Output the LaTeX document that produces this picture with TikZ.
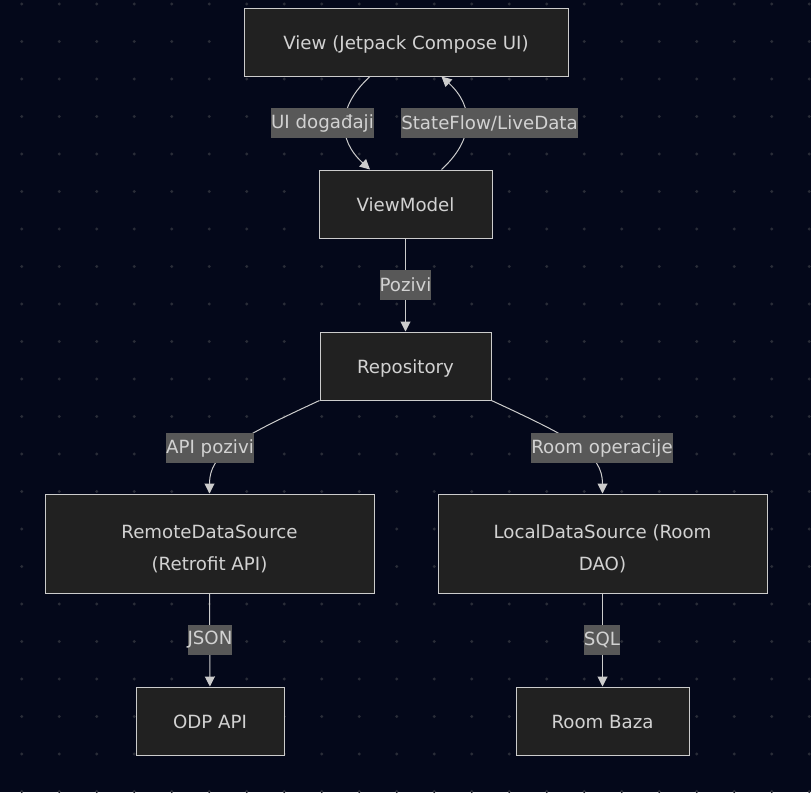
\documentclass[tikz,border=0pt]{standalone}
\usepackage{fontspec}
\setmainfont{DejaVu Sans}
\usetikzlibrary{arrows.meta}
\definecolor{pagebg}{HTML}{04081A}
\definecolor{dotgray}{HTML}{2A2D38}
\definecolor{boxfill}{HTML}{212121}
\definecolor{boxline}{HTML}{CCCCCC}
\definecolor{labelbg}{HTML}{585858}
\definecolor{textgray}{HTML}{D2D2D2}

\begin{document}
\begin{tikzpicture}[x=1pt,y=-1pt,
    box/.style={draw=boxline,fill=boxfill,line width=1pt,text=textgray,
      minimum height=68pt,inner sep=0pt,align=center,
      font=\fontsize{18.2}{31.6}\selectfont},
    onebox/.style={box,text height=15pt,text depth=0pt},
    elabel/.style={fill=labelbg,text=textgray,inner xsep=0pt,inner ysep=0pt,
      minimum height=30pt,font=\fontsize{18.2}{24}\selectfont},
    flow/.style={draw=boxline,line width=1pt,-{Triangle[length=10pt,width=10pt]}}]
  % background with dots
  \fill[pagebg] (0,0) rectangle (811,792);
  \foreach \i in {0,...,21}
    \foreach \j in {0,...,21}
      \fill[dotgray] ({21.7+37.5*\i},{4+37.5*\j}) circle (1.6pt);
  \useasboundingbox (0,0) rectangle (811,792);

  % nodes
  \node[onebox,minimum width=324pt] (view) at (406,42) {View (Jetpack Compose UI)};
  \node[onebox,minimum width=173pt] (vm) at (405.5,204) {ViewModel};
  \node[onebox,minimum width=171pt] (repo) at (405.5,366) {Repository};
  \node[box,minimum width=329pt,minimum height=99pt] (remote) at (209.5,543.5)
    {\rule{0pt}{24pt}RemoteDataSource\\(Retrofit API)};
  \node[box,minimum width=329pt,minimum height=99pt] (local) at (602.5,543.5)
    {\rule{0pt}{24pt}LocalDataSource (Room\\DAO)};
  \node[onebox,minimum width=148pt] (odp) at (210,721) {ODP API};
  \node[onebox,minimum width=173pt] (baza) at (602.5,721) {Room Baza};

  % connectors
  \draw[flow] ([xshift=-36pt]view.south) .. controls +(-33,30) and +(-33,-30) .. ([xshift=-35.5pt]vm.north);
  \draw[flow] ([xshift=36pt]vm.north) .. controls +(33,-30) and +(33,30) .. ([xshift=35.5pt]view.south);
  \draw[flow] (vm) -- (repo);
  \draw[flow] (repo.south west) .. controls +(-82,38) and +(0,-40) .. (remote.north);
  \draw[flow] (repo.south east) .. controls +(82,38) and +(0,-40) .. (local.north);
  \draw[flow] (remote) -- (odp);
  \draw[flow] (local) -- (baza);

  % edge labels
  \node[elabel] (l1) at (322.5,123) {UI događaji};
  \node[elabel] (l2) at (489.5,123) {StateFlow/LiveData};
  \node[elabel] (l3) at (405.5,285) {Pozivi};
  \node[elabel] (l4) at (210,448) {API pozivi};
  \node[elabel] (l5) at (602,448) {Room operacije};
  \node[elabel] (l6) at (210,640) {JSON};
  \node[elabel] (l7) at (602,640) {SQL};
\end{tikzpicture}
\end{document}
